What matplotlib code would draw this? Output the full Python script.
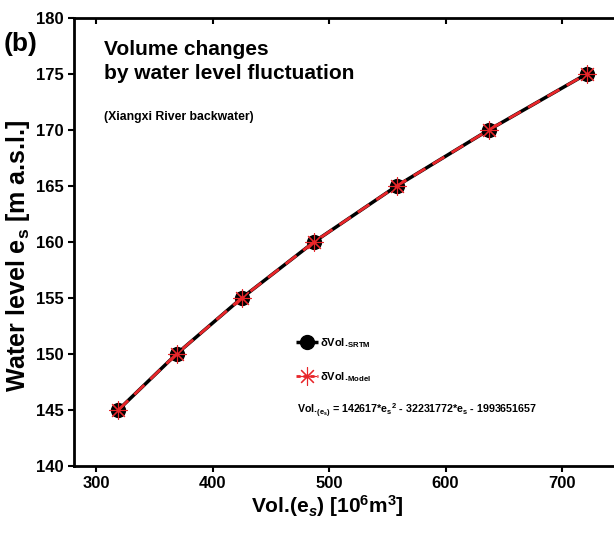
import matplotlib
matplotlib.use("Agg")
import matplotlib.pyplot as plt
from matplotlib.lines import Line2D

plt.rcParams["font.family"] = ["Liberation Sans", "DejaVu Sans"]
plt.rcParams["font.weight"] = "bold"
plt.rcParams["axes.labelweight"] = "bold"
plt.rcParams["mathtext.fontset"] = "custom"
plt.rcParams["mathtext.rm"] = "Liberation Sans:bold"
plt.rcParams["mathtext.it"] = "Liberation Sans:bold:italic"
plt.rcParams["mathtext.bf"] = "Liberation Sans:bold"
plt.rcParams["mathtext.default"] = "rm"

# data
water_level = [145, 150, 155, 160, 165, 170, 175]
vol_srtm = [319, 369, 425, 487, 558, 637, 721]
vol_model = [319, 369, 425, 487, 558, 637, 721]

xticks = [300, 400, 500, 600, 700]
yticks = [140, 145, 150, 155, 160, 165, 170, 175, 180]

RED = "#e8262a"

fig = plt.figure(figsize=(6.14, 5.38), dpi=100)
# axes runs past the right edge like in the cropped original
ax = fig.add_axes([74/614, 72/538, 558/614, 448/538])

ax.plot(vol_srtm, water_level, color="black", lw=2.5, marker="o", ms=10,
        mec="black", mfc="black", zorder=3)
ax.plot(vol_model, water_level, color=RED, lw=2.0, ls=(0, (5, 3)),
        marker=(8, 2, 0), ms=13, mew=0.8, mec=RED, zorder=4)

ax.set_xlim(281, 760)
ax.set_ylim(140, 180)
ax.set_xticks(xticks)
ax.set_yticks(yticks)
ax.tick_params(labelsize=12, width=1.5, length=4, direction="out")
for lab in ax.get_xticklabels() + ax.get_yticklabels():
    lab.set_fontweight("bold")
for s in ax.spines.values():
    s.set_linewidth(2)

# small inward ticks on the top spine
top = ax.secondary_xaxis("top")
top.set_xticks(xticks)
top.tick_params(direction="in", length=4, width=1.5, labeltop=False)
top.spines["top"].set_visible(False)

ax.set_xlabel(r"Vol.(e$_{\it s}$) [10$^6$m$^3$]", fontsize=15)
ax.xaxis.set_label_coords(0.455, -0.06)
ax.set_ylabel(r"Water level e$_s$ [m a.s.l.]", fontsize=18)
ax.yaxis.set_label_coords(-0.075, 0.47)

fig.text(4/614, 1 - 44/538, "(b)", fontsize=19, fontweight="bold", va="center")
ax.text(0.054, 0.95, "Volume changes\nby water level fluctuation", transform=ax.transAxes,
        fontsize=15, fontweight="bold", va="top", linespacing=1.3)
ax.text(0.054, 0.78, "(Xiangxi River backwater)", transform=ax.transAxes,
        fontsize=8.8, fontweight="bold", va="center")

handles = [
    Line2D([], [], color="black", lw=2.5, ls=(0, (1.5, 1)), marker="o", ms=10, mfc="black", mec="black"),
    Line2D([], [], color=RED, lw=2.0, ls=(0, (1.5, 1)), marker=(8, 2, 0), ms=13, mew=0.8, mec=RED),
]
labels = [r"$\delta$Vol.$_{SRTM}$", r"$\delta$Vol.$_{Model}$"]
ax.legend(handles, labels, loc="center left", bbox_to_anchor=(0.38, 0.237), frameon=False,
          fontsize=8, handlelength=2.0, handletextpad=0.2, labelspacing=1.8)

ax.text(0.40, 0.124, r"Vol.$_{(e_s)}$ = 142617*e$_s$$^2$ - 32231772*e$_s$ - 1993651657",
        transform=ax.transAxes, fontsize=7.7, fontweight="bold", va="center")

fig.savefig("out.png", dpi=100)
